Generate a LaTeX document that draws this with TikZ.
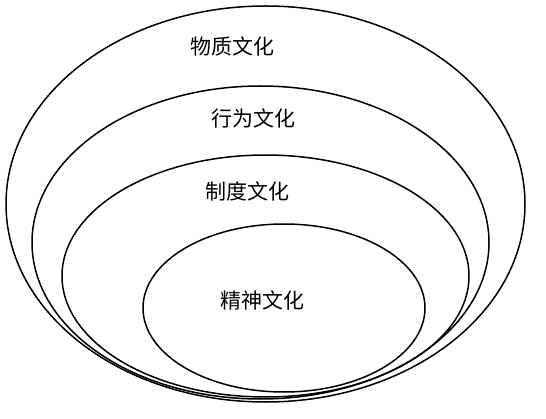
\documentclass[tikz,border=0pt]{standalone}
\usepackage{fontspec}
\newfontfamily\cjk{Noto Sans CJK SC}
\usetikzlibrary{shapes.geometric}
\begin{document}
\begin{tikzpicture}[x=1pt,y=1pt,
  ring/.style={draw=black, line width=1.5pt, ellipse, inner sep=0pt, fill=none},
  lbl/.style={font=\cjk\fontsize{21}{24}\selectfont, text=black, inner sep=0pt}]
\useasboundingbox (0,0) rectangle (546,418);
\node[ring, minimum width=519pt, minimum height=396pt] (wuzhi) at (265.5,214) {};
\node[ring, minimum width=457pt, minimum height=313pt] (xingwei) at (260.5,175.5) {};
\node[ring, minimum width=407pt, minimum height=242pt] (zhidu) at (265.5,142) {};
\node[ring, minimum width=282pt, minimum height=168pt] (jingshen) at (284,110) {};
\node[lbl] (t1) at (232.5,372) {物质文化};
\node[lbl] (t2) at (253,299.5) {行为文化};
\node[lbl] (t3) at (247,226.5) {制度文化};
\node[lbl] (t4) at (262.5,118) {精神文化};
\end{tikzpicture}
\end{document}
